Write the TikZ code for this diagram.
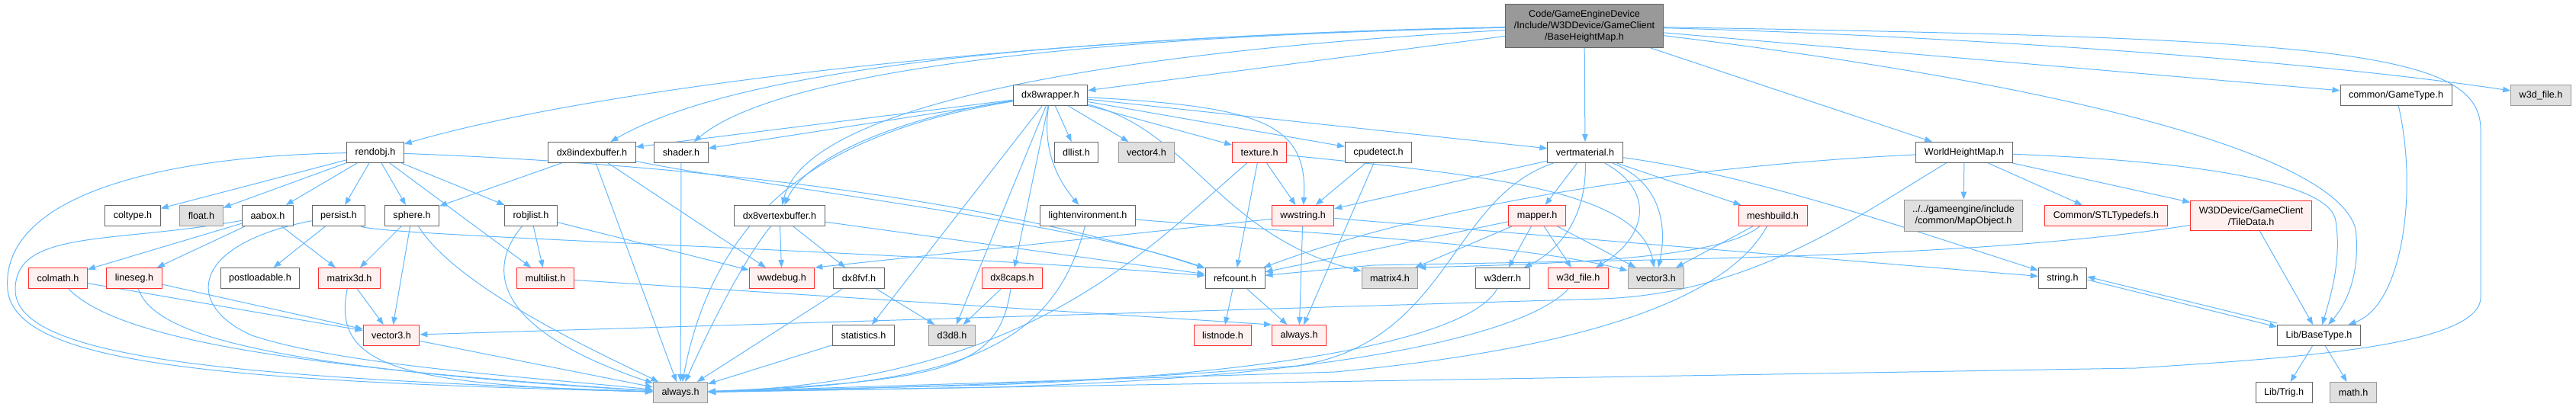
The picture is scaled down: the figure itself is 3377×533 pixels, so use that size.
\documentclass[tikz,border=0pt]{standalone}
\usepackage{fontspec}
\setmainfont{Liberation Sans}
\usetikzlibrary{arrows.meta, backgrounds}
\definecolor{edgeblue}{HTML}{63B8FF}
\definecolor{nodeline}{HTML}{666666}
\definecolor{extfill}{HTML}{E0E0E0}
\definecolor{extline}{HTML}{999999}
\definecolor{truncfill}{HTML}{FFF0F0}
\definecolor{truncline}{HTML}{FF3030}
\definecolor{rootfill}{HTML}{999999}

\begin{document}
\begin{tikzpicture}[
    x=1pt, y=1pt,
    box/.style={draw, line width=1pt, font=\fontsize{12.6}{15}\selectfont, align=center, inner xsep=11pt, inner ysep=7.5pt, minimum height=27pt},
    std/.style={box, fill=white, draw=nodeline},
    ext/.style={box, fill=extfill, draw=extline},
    trunc/.style={box, fill=truncfill, draw=truncline},
    rootbox/.style={box, fill=rootfill, draw=nodeline},
    dep/.style={-{Triangle[length=10pt, width=7.5pt]}, edgeblue, line width=1pt},
]
\useasboundingbox (0,0) rectangle (3377,-533);

% Header itself
\node[rootbox] (root) at (2077,-34) {Code/GameEngineDevice\\/Include/W3DDevice/GameClient\\/BaseHeightMap.h};

% Row 1
\node[std] (dxwrap) at (1377,-125) {dx8wrapper.h};
\node[std] (gametype) at (3141,-125) {common/GameType.h};
\node[ext] (wfileg) at (3331,-125) {w3d\_file.h};

% Row 2
\node[std] (rendobj) at (492,-200) {rendobj.h};
\node[std] (dxindex) at (776,-200) {dx8indexbuffer.h};
\node[std] (shader) at (893,-200) {shader.h};
\node[std] (dllist) at (1411,-200) {dllist.h};
\node[ext] (vecfour) at (1503,-200) {vector4.h};
\node[trunc] (texture) at (1651,-200) {texture.h};
\node[std] (cpudetect) at (1807,-200) {cpudetect.h};
\node[std] (vertmat) at (2078,-200) {vertmaterial.h};
\node[std] (worldhm) at (2575,-200) {WorldHeightMap.h};

% Row 3
\node[std] (coltype) at (174,-283) {coltype.h};
\node[ext] (floath) at (264,-283) {float.h};
\node[std] (aabox) at (351,-283) {aabox.h};
\node[std] (persist) at (444,-283) {persist.h};
\node[std] (sphere) at (540,-283) {sphere.h};
\node[std] (robjlist) at (696,-283) {robjlist.h};
\node[std] (dxvbuf) at (1022,-283) {dx8vertexbuffer.h};
\node[std] (lightenv) at (1426,-283) {lightenvironment.h};
\node[trunc] (wwstring) at (1708,-283) {wwstring.h};
\node[trunc] (mapper) at (2015,-283) {mapper.h};
\node[trunc] (meshbuild) at (2324,-283) {meshbuild.h};
\node[ext] (mapobj) at (2574,-283) {../../gameengine/include\\/common/MapObject.h};
\node[trunc] (stltype) at (2761,-283) {Common/STLTypedefs.h};
\node[trunc] (tiledata) at (2951,-283) {W3DDevice/GameClient\\/TileData.h};

% Row 4
\node[trunc] (colmath) at (76,-365) {colmath.h};
\node[trunc] (lineseg) at (176,-365) {lineseg.h};
\node[std] (postload) at (341,-365) {postloadable.h};
\node[trunc] (matthreed) at (458,-365) {matrix3d.h};
\node[trunc] (multilist) at (715,-365) {multilist.h};
\node[trunc] (wwdebug) at (1025,-365) {wwdebug.h};
\node[std] (dxfvf) at (1126,-365) {dx8fvf.h};
\node[trunc] (dxcaps) at (1327,-365) {dx8caps.h};
\node[std] (refcount) at (1619,-365) {refcount.h};
\node[ext] (matfour) at (1822,-365) {matrix4.h};
\node[std] (wderr) at (1970,-365) {w3derr.h};
\node[trunc] (wfiler) at (2069,-365) {w3d\_file.h};
\node[ext] (vecthreeg) at (2171,-365) {vector3.h};
\node[std] (stringh) at (2704,-365) {string.h};

% Row 5
\node[trunc] (vecthreer) at (513,-440) {vector3.h};
\node[std] (statistics) at (1132,-440) {statistics.h};
\node[ext] (dthreed) at (1248,-440) {d3d8.h};
\node[trunc] (listnode) at (1603,-440) {listnode.h};
\node[trunc] (alwaysr) at (1703,-440) {always.h};
\node[std] (basetype) at (3040,-440) {Lib/BaseType.h};

% Row 6
\node[ext] (alwaysg) at (892,-515) {always.h};
\node[std] (libtrig) at (2994,-515) {Lib/Trig.h};
\node[ext] (mathh) at (3085,-515) {math.h};

\begin{scope}[on background layer]
% Header includes
\draw[dep] (root) .. controls (1400,-45) and (800,-110) .. (rendobj);
\draw[dep] (root) .. controls (1300,-50) and (950,-100) .. (dxindex);
\draw[dep] (root) .. controls (1300,-50) and (1000,-110) .. (shader);
\draw[dep] (root) -- (dxwrap);
\draw[dep] (root) .. controls (1500,-65) and (1060,-130) .. (dxvbuf);
\draw[dep] (root) -- (vertmat);
\draw[dep] (root) -- (worldhm);
\draw[dep] (root) -- (gametype);
\draw[dep] (root) .. controls (2500,-45) and (3000,-75) .. (wfileg);
\draw[dep] (root) .. controls (2700,-110) and (3060,-200) .. (3088,-300) .. controls (3095,-360) and (3075,-400) .. (basetype);
\draw[dep] (root) .. controls (3050,-50) and (3252,-65) .. (3252,-170) -- (3252,-390) .. controls (3252,-455) and (3000,-470) .. (2800,-483) -- (alwaysg);

% dx8wrapper.h
\draw[dep] (dxwrap) -- (dllist);
\draw[dep] (dxwrap) -- (vecfour);
\draw[dep] (dxwrap) -- (texture);
\draw[dep] (dxwrap) -- (cpudetect);
\draw[dep] (dxwrap) -- (vertmat);
\draw[dep] (dxwrap) -- (dxindex);
\draw[dep] (dxwrap) -- (shader);
\draw[dep] (dxwrap) .. controls (1200,-150) and (1060,-200) .. (dxvbuf);
\draw[dep] (dxwrap) .. controls (1365,-200) and (1390,-240) .. (lightenv);
\draw[dep] (dxwrap) -- (statistics);
\draw[dep] (dxwrap) -- (dthreed);
\draw[dep] (dxwrap) -- (dxcaps);
\draw[dep] (dxwrap) .. controls (1650,-140) and (1715,-160) .. (wwstring);
\draw[dep] (dxwrap) .. controls (1560,-170) and (1600,-310) .. (matfour);
\draw[dep] (dxwrap) .. controls (1100,-170) and (940,-260) .. (alwaysg);

% rendobj.h
\draw[dep] (rendobj) -- (coltype);
\draw[dep] (rendobj) -- (floath);
\draw[dep] (rendobj) -- (aabox);
\draw[dep] (rendobj) -- (persist);
\draw[dep] (rendobj) -- (sphere);
\draw[dep] (rendobj) -- (robjlist);
\draw[dep] (rendobj) -- (multilist);
\draw[dep] (rendobj) .. controls (900,-215) and (1300,-260) .. (refcount);
\draw[dep] (rendobj) .. controls (200,-205) and (0,-260) .. (10,-380) .. controls (20,-480) and (300,-500) .. (alwaysg);

% left cluster
\draw[dep] (aabox) -- (colmath);
\draw[dep] (aabox) -- (lineseg);
\draw[dep] (aabox) -- (matthreed);
\draw[dep] (aabox) .. controls (150,-320) and (20,-300) .. (20,-380) .. controls (20,-470) and (300,-495) .. (alwaysg);
\draw[dep] (persist) -- (postload);
\draw[dep] (persist) .. controls (250,-320) and (240,-400) .. (330,-440) .. controls (450,-480) and (700,-495) .. (alwaysg);
\draw[dep] (persist) .. controls (500,-310) and (1200,-330) .. (refcount);
\draw[dep] (sphere) -- (matthreed);
\draw[dep] (sphere) -- (vecthreer);
\draw[dep] (sphere) .. controls (600,-380) and (800,-470) .. (alwaysg);
\draw[dep] (colmath) -- (vecthreer);
\draw[dep] (colmath) .. controls (150,-440) and (350,-480) .. (alwaysg);
\draw[dep] (lineseg) -- (vecthreer);
\draw[dep] (lineseg) .. controls (200,-430) and (300,-480) .. (alwaysg);
\draw[dep] (matthreed) -- (vecthreer);
\draw[dep] (matthreed) .. controls (435,-480) and (520,-505) .. (alwaysg);
\draw[dep] (vecthreer) -- (alwaysg);
\draw[dep] (robjlist) -- (multilist);
\draw[dep] (robjlist) -- (wwdebug);
\draw[dep] (robjlist) .. controls (640,-350) and (640,-430) .. (alwaysg);
\draw[dep] (multilist) -- (alwaysr.north west);

% buffers and caps
\draw[dep] (dxindex) -- (sphere);
\draw[dep] (dxindex) -- (wwdebug);
\draw[dep] (dxindex) -- (alwaysg);
\draw[dep] (dxindex) .. controls (1000,-245) and (1400,-290) .. (refcount);
\draw[dep] (shader) -- (alwaysg);
\draw[dep] (dxvbuf) -- (wwdebug);
\draw[dep] (dxvbuf) -- (dxfvf);
\draw[dep] (dxvbuf) -- (refcount);
\draw[dep] (dxvbuf) .. controls (975,-340) and (930,-430) .. (alwaysg);
\draw[dep] (dxfvf) -- (dthreed);
\draw[dep] (dxfvf) -- (alwaysg);
\draw[dep] (statistics) -- (alwaysg);
\draw[dep] (dxcaps) -- (dthreed);
\draw[dep] (dxcaps) .. controls (1310,-480) and (1250,-500) .. (alwaysg);
\draw[dep] (lightenv) .. controls (1380,-460) and (1250,-505) .. (alwaysg);
\draw[dep] (lightenv) .. controls (1700,-305) and (2000,-320) .. (vecthreeg);

% texture, cpudetect, wwstring
\draw[dep] (texture) -- (refcount);
\draw[dep] (texture) -- (wwstring);
\draw[dep] (texture) .. controls (1500,-330) and (1350,-500) .. (alwaysg);
\draw[dep] (texture) .. controls (1950,-230) and (2150,-250) .. (vecthreeg);
\draw[dep] (cpudetect) -- (wwstring);
\draw[dep] (cpudetect) -- (alwaysr);
\draw[dep] (wwstring) -- (wwdebug.north east);
\draw[dep] (wwstring) -- (alwaysr);
\draw[dep] (wwstring) -- (stringh);
\draw[dep] (refcount) -- (listnode);
\draw[dep] (refcount) -- (alwaysr);

% vertmaterial.h
\draw[dep] (vertmat) -- (wwstring);
\draw[dep] (vertmat) -- (mapper);
\draw[dep] (vertmat) -- (meshbuild);
\draw[dep] (vertmat) .. controls (2080,-290) and (2040,-330) .. (wderr);
\draw[dep] (vertmat) .. controls (2170,-250) and (2160,-310) .. (wfiler);
\draw[dep] (vertmat) .. controls (2180,-240) and (2185,-300) .. (vecthreeg);
\draw[dep] (vertmat) .. controls (2300,-230) and (2500,-300) .. (stringh);
\draw[dep] (vertmat) .. controls (1900,-260) and (1900,-450) .. (1700,-480) .. controls (1400,-505) and (1100,-510) .. (alwaysg);

% mapper.h, meshbuild.h
\draw[dep] (mapper) -- (matfour);
\draw[dep] (mapper) -- (wderr);
\draw[dep] (mapper) -- (wfiler);
\draw[dep] (mapper) -- (vecthreeg);
\draw[dep] (mapper) -- (refcount);
\draw[dep] (meshbuild) -- (vecthreeg);
\draw[dep] (meshbuild) .. controls (2260,-335) and (2100,-345) .. (matfour.north east);
\draw[dep] (meshbuild) .. controls (2260,-400) and (2050,-460) .. (1750,-488) -- (alwaysg);
\draw[dep] (wderr) .. controls (1930,-440) and (1700,-490) .. (1300,-505) -- (alwaysg);
\draw[dep] (wfiler) .. controls (2000,-440) and (1750,-495) .. (1300,-508) -- (alwaysg);

% WorldHeightMap.h
\draw[dep] (worldhm) -- (mapobj);
\draw[dep] (worldhm) -- (stltype);
\draw[dep] (worldhm) -- (tiledata);
\draw[dep] (worldhm) .. controls (2850,-210) and (3055,-235) .. (3062,-290) .. controls (3070,-340) and (3055,-390) .. (basetype);
\draw[dep] (worldhm) .. controls (2440,-280) and (2300,-385) .. (2100,-392) -- (vecthreer);
\draw[dep] (worldhm) .. controls (2250,-215) and (1900,-260) .. (refcount);

% game side
\draw[dep] (tiledata) -- (basetype);
\draw[dep] (tiledata) .. controls (2600,-338) and (2200,-340) .. (1800,-348) -- (refcount);
\draw[dep] (gametype) .. controls (3170,-250) and (3150,-400) .. (basetype);
\draw[dep] ([yshift=2pt]basetype.north west) -- ([yshift=2pt]stringh.east);
\draw[dep] ([yshift=-2pt]stringh.east) -- ([yshift=-3pt]basetype.north west);
\draw[dep] (basetype) -- (libtrig);
\draw[dep] (basetype) -- (mathh);
\end{scope}
\end{tikzpicture}
\end{document}
